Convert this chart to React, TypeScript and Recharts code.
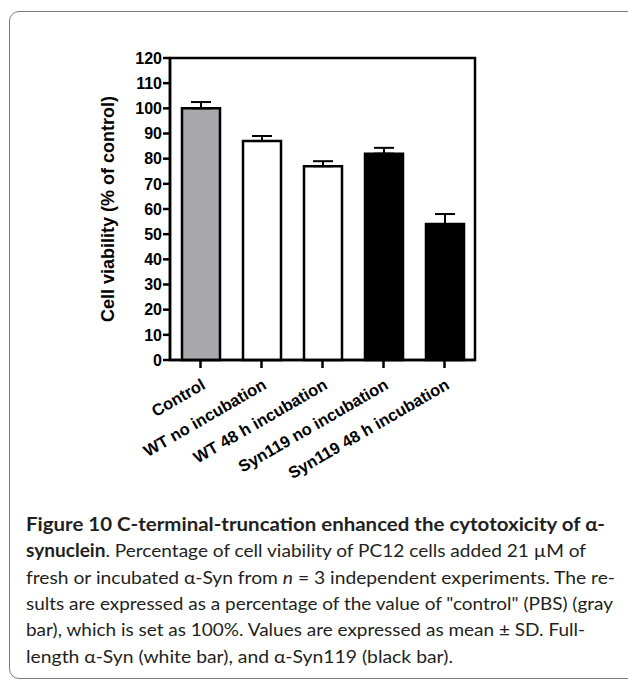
import React from 'react';
import { BarChart, Bar, XAxis, YAxis, Cell, ErrorBar, ReferenceArea } from 'recharts';

const groups = ['Control', 'WT no incubation', 'WT 48 h incubation', 'Syn119 no incubation', 'Syn119 48 h incubation'];
const viability = [100, 87, 77, 82, 54];
const sd = [2.5, 2, 2, 2.3, 4];
const yTicks = [0, 10, 20, 30, 40, 50, 60, 70, 80, 90, 100, 110, 120];

const FILLS = ['#a9a8ad', '#ffffff', '#ffffff', '#000000', '#000000'];
const AXIS_FONT = '"Liberation Sans", Arial, sans-serif';
const CAPTION_FONT = 'Lato, "Open Sans", sans-serif';

const rows = groups.map((name, i) => ({ name, value: viability[i], err: [0, sd[i]] }));

function XTick({ x, y, payload }: any) {
  const ax = x + 6;
  const ay = y + 18;
  return (
    <text
      x={ax}
      y={ay}
      transform={`rotate(-30 ${ax} ${ay})`}
      textAnchor="end"
      fontFamily={AXIS_FONT}
      fontWeight="bold"
      fontSize={16.5}
      fill="#000"
    >
      {payload.value}
    </text>
  );
}

function YTitle({ viewBox }: any) {
  const cx = viewBox.x + 8;
  const cy = viewBox.y + viewBox.height / 2;
  return (
    <text
      x={cx}
      y={cy}
      transform={`rotate(-90 ${cx} ${cy})`}
      textAnchor="middle"
      dominantBaseline="central"
      fontFamily={AXIS_FONT}
      fontWeight="bold"
      fontSize={18}
      fill="#000"
    >
      Cell viability (% of control)
    </text>
  );
}

// caption lines, wrapped as in the figure; widths are the measured line ends
const captionLines: { parts: { t: string; b?: boolean; i?: boolean }[]; w: number }[] = [
  { parts: [{ t: 'Figure 10 C-terminal-truncation enhanced the cytotoxicity of α-', b: true }], w: 579 },
  { parts: [{ t: 'synuclein', b: true }, { t: '. Percentage of cell viability of PC12 cells added 21 µM of' }], w: 560 },
  { parts: [{ t: 'fresh or incubated α-Syn from ' }, { t: 'n', i: true }, { t: ' = 3 independent experiments. The re-' }], w: 589 },
  { parts: [{ t: 'sults are expressed as a percentage of the value of "control" (PBS) (gray' }], w: 587 },
  { parts: [{ t: 'bar), which is set as 100%. Values are expressed as mean ± SD. Full-' }], w: 559 },
  { parts: [{ t: 'length α-Syn (white bar), and α-Syn119 (black bar).' }], w: 427 },
];

function Caption() {
  return (
    <svg width={628} height={179} style={{ position: 'absolute', left: 0, top: 500 }}>
      {captionLines.map((line, k) => (
        <text
          key={k}
          x={26}
          y={31 + k * 26.3}
          textLength={line.w}
          lengthAdjust="spacingAndGlyphs"
          fontFamily={CAPTION_FONT}
          fontSize={18}
          fill="#231f20"
        >
          {line.parts.map((p, j) => (
            <tspan key={j} fontWeight={p.b ? 'bold' : 'normal'} fontStyle={p.i ? 'italic' : 'normal'}>
              {p.t}
            </tspan>
          ))}
        </text>
      ))}
    </svg>
  );
}

export default function App() {
  return (
    <div style={{ position: 'absolute', left: 0, top: 0, width: 628, height: 679, overflow: 'hidden', background: '#fff' }}>
      <div
        style={{
          position: 'absolute',
          left: 9,
          top: 11,
          width: 640,
          height: 666,
          border: '1.5px solid #7a7a7a',
          borderRadius: 10,
        }}
      />
      <div style={{ position: 'absolute', left: 0, top: 0 }}>
        <BarChart width={628} height={500} data={rows} margin={{ top: 58, right: 153, left: 100, bottom: 110 }}>
          <XAxis
            dataKey="name"
            height={30}
            interval={0}
            tick={<XTick />}
            tickSize={8}
            axisLine={{ stroke: '#000', strokeWidth: 2.5 }}
            tickLine={{ stroke: '#000', strokeWidth: 2.5 }}
          />
          <YAxis
            width={70}
            domain={[0, 120]}
            ticks={yTicks}
            interval={0}
            tickSize={7}
            tickMargin={1}
            axisLine={{ stroke: '#000', strokeWidth: 2.5 }}
            tickLine={{ stroke: '#000', strokeWidth: 2.5 }}
            tick={{ fill: '#000', fontSize: 16, fontWeight: 'bold', fontFamily: AXIS_FONT }}
            label={{ content: <YTitle /> }}
          />
          <ReferenceArea y1={0} y2={120} fill="none" stroke="#000" strokeWidth={2.5} ifOverflow="visible" />
          <Bar dataKey="value" barSize={38} stroke="#000" strokeWidth={2.5} isAnimationActive={false}>
            {rows.map((r, i) => (
              <Cell key={r.name} fill={FILLS[i]} />
            ))}
            <ErrorBar dataKey="err" width={10} stroke="#000" strokeWidth={2} direction="y" />
          </Bar>
        </BarChart>
      </div>
      <Caption />
    </div>
  );
}
